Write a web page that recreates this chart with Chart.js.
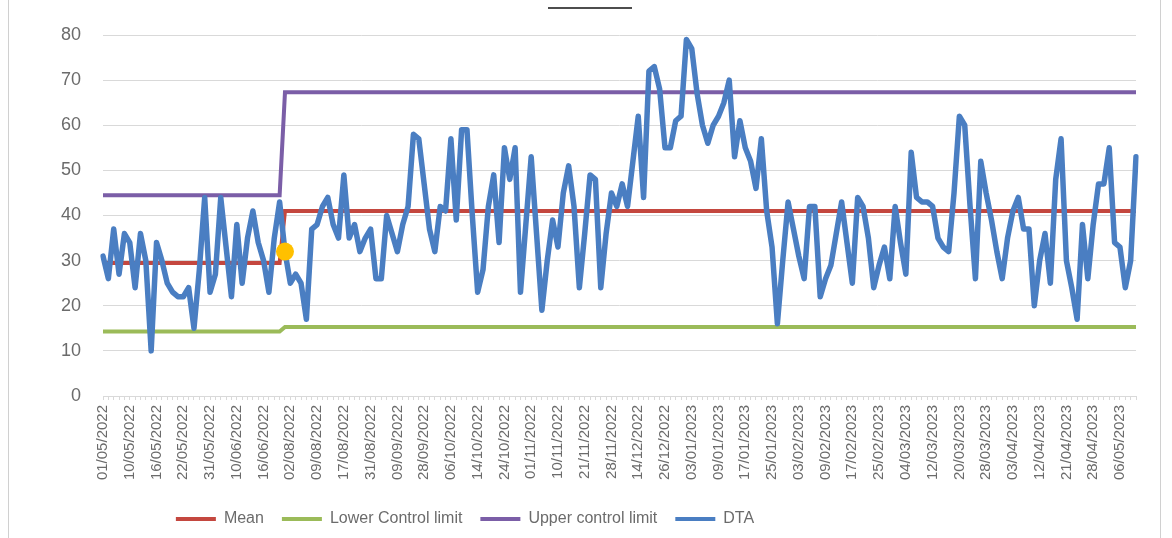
<!DOCTYPE html>
<html>
<head>
<meta charset="utf-8">
<script src="https://cdn.jsdelivr.net/npm/chart.js@4.4.0/dist/chart.umd.min.js"></script>
<style>
  html, body { margin: 0; padding: 0; background: #fff; }
</style>
</head>
<body>
<canvas id="grafico" width="1172" height="538"></canvas>
<script>
// fechas que se ven en el eje (una de cada 5 categorias)
const fechasEje = [
  '01/05/2022','10/05/2022','16/05/2022','22/05/2022','31/05/2022','10/06/2022','16/06/2022',
  '02/08/2022','09/08/2022','17/08/2022','31/08/2022','09/09/2022','28/09/2022','06/10/2022',
  '14/10/2022','24/10/2022','01/11/2022','10/11/2022','21/11/2022','28/11/2022','14/12/2022',
  '26/12/2022','03/01/2023','09/01/2023','17/01/2023','25/01/2023','03/02/2023','09/02/2023',
  '17/02/2023','25/02/2023','04/03/2023','12/03/2023','20/03/2023','28/03/2023','03/04/2023',
  '12/04/2023','21/04/2023','28/04/2023','06/05/2023'
];
const pasoEtiqueta = 5;

// DTA por caso
const dta = [
  31,26,37,27,36,34,24,36,30,10, 34,30,25,23,22,22,24,15,28,44,
  23,27,44,33,22,38,25,35,41,34, 30,23,35,43,32,25,27,25,17,37,
  38,42,44,38,35,49,35,38,32,35, 37,26,26,40,36,32,38,42,58,57,
  47,37,32,42,41,57,39,59,59,40, 23,28,42,49,34,55,48,55,23,38,
  53,36,19,30,39,33,45,51,42,24, 36,49,48,24,36,45,42,47,42,52,
  62,44,72,73,68,55,55,61,62,79, 77,67,60,56,60,62,65,70,53,61,
  55,52,46,57,41,33,16,30,43,37, 31,26,42,42,22,26,29,36,43,34,
  25,44,42,35,24,29,33,26,42,34, 27,54,44,43,43,42,35,33,32,45,
  62,60,42,26,52,45,39,32,26,35, 41,44,37,37,20,30,36,25,48,57,
  30,24,17,38,26,38,47,47,55,34, 33,24,30,53
];

// dos fases: antes y despues del cambio
const casosPorFase = [34, 160];
const media = [29.5, 41];
const limiteInferior = [14.3, 15.3];
const limiteSuperior = [44.5, 67.3];

// punto resaltado en amarillo (inicio de la segunda fase)
const marcaIndice = 34;
const marcaValor = 32;

function porFase(valores) {
  const salida = [];
  casosPorFase.forEach((n, f) => {
    for (let j = 0; j < n; j++) salida.push(valores[f]);
  });
  return salida;
}

const categorias = dta.map((v, i) => i);
const marca = dta.map((v, i) => (i === marcaIndice ? marcaValor : null));

const gris = '#d9d9d9';
const texto = '#6b6b6b';

// bordes del cuadro y la rayita de arriba
const marco = {
  id: 'marco',
  afterLayout(chart) {
    // la leyenda del original no esta centrada, va corrida a la izquierda
    chart.legend.left -= 103;
    chart.legend.right -= 103;
  },
  beforeDraw(chart) {
    const c = chart.ctx;
    c.save();
    c.fillStyle = '#fff';
    c.fillRect(0, 0, chart.width, chart.height);
    c.strokeStyle = '#d0d0d0';
    c.lineWidth = 1;
    c.beginPath();
    c.moveTo(8.5, 0); c.lineTo(8.5, chart.height);
    c.moveTo(1160.5, 0); c.lineTo(1160.5, chart.height);
    c.stroke();
    c.fillStyle = '#4d4d4d';
    c.fillRect(548, 7, 84, 2);
    c.restore();
  }
};

const cnv = document.getElementById('grafico');

new Chart(cnv, {
  type: 'line',
  data: {
    labels: categorias,
    datasets: [
      {
        label: 'Mean',
        data: porFase(media),
        borderColor: '#c4473f',
        backgroundColor: '#c4473f',
        borderWidth: 4,
        pointRadius: 0,
        order: 1
      },
      {
        label: 'Lower Control limit',
        data: porFase(limiteInferior),
        borderColor: '#9bbb59',
        backgroundColor: '#9bbb59',
        borderWidth: 4,
        pointRadius: 0,
        order: 1
      },
      {
        label: 'Upper control limit',
        data: porFase(limiteSuperior),
        borderColor: '#7b5ea7',
        backgroundColor: '#7b5ea7',
        borderWidth: 4,
        pointRadius: 0,
        order: 1
      },
      {
        label: 'DTA',
        data: dta,
        borderColor: '#4a7ec2',
        backgroundColor: '#4a7ec2',
        borderWidth: 5.5,
        borderJoinStyle: 'round',
        borderCapStyle: 'round',
        pointRadius: 0,
        order: 0
      },
      {
        label: 'marca',
        data: marca,
        showLine: false,
        pointRadius: 9,
        pointBackgroundColor: '#ffc000',
        pointBorderWidth: 0,
        order: -1
      }
    ]
  },
  options: {
    responsive: false,
    animation: false,
    layout: { padding: { top: 35, right: 36, bottom: 1, left: 0 } },
    plugins: {
      tooltip: { enabled: false },
      legend: {
        position: 'bottom',
        labels: {
          boxWidth: 40,
          boxHeight: 4,
          padding: 18,
          color: texto,
          font: { family: 'Liberation Sans', size: 16 },
          sort: (a, b) => a.datasetIndex - b.datasetIndex,
          filter: (item) => item.text !== 'marca',
          generateLabels: (chart) =>
            Chart.defaults.plugins.legend.labels.generateLabels(chart)
              .map(l => Object.assign(l, { lineWidth: 0 }))
        }
      }
    },
    scales: {
      x: {
        type: 'category',
        offset: false,
        afterFit: (s) => { s.height = 97; },
        border: { display: true, color: gris },
        grid: { drawOnChartArea: false, drawTicks: true, tickLength: 4, color: gris },
        ticks: {
          autoSkip: false,
          minRotation: 90,
          maxRotation: 90,
          padding: 5,
          color: texto,
          font: { family: 'Liberation Sans', size: 15 },
          callback: (v, i) => (i % pasoEtiqueta === 0 ? fechasEje[i / pasoEtiqueta] : '')
        }
      },
      y: {
        min: 0,
        max: 80,
        afterFit: (s) => { s.width = 103; },
        border: { display: false },
        grid: { color: gris, lineWidth: 1, drawTicks: false },
        ticks: {
          stepSize: 10,
          padding: 22,
          color: texto,
          font: { family: 'Liberation Sans', size: 18 }
        }
      }
    }
  },
  plugins: [marco]
});
</script>
</body>
</html>
